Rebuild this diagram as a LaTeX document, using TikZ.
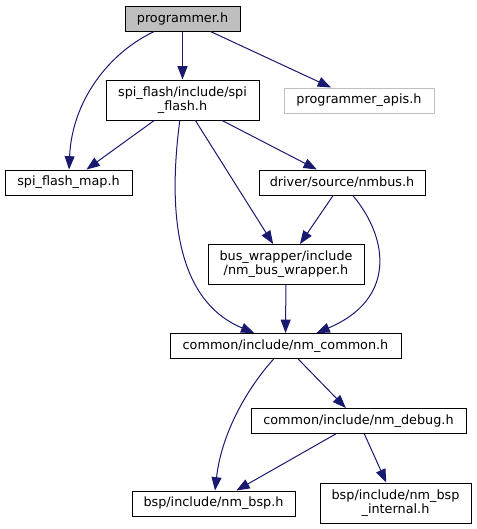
\documentclass[tikz,border=0pt]{standalone}
\usepackage{fontspec}
\setmainfont{DejaVu Sans}
\usetikzlibrary{arrows.meta}

\definecolor{edgeblue}{RGB}{25,25,112}
\definecolor{boxgray}{RGB}{191,191,191}

\begin{document}
\begin{tikzpicture}[
      x=0.75pt, y=-0.75pt,
      box/.style={draw=black, fill=white, line width=0.75pt, inner sep=0pt,
        align=center, font=\fontsize{9.6}{10.5}\selectfont, minimum height=18.75pt},
      tall/.style={minimum height=30pt},
      edge/.style={draw=edgeblue, line width=0.75pt, -{Triangle[length=10pt, width=7.5pt]}},
      ]

      \useasboundingbox (0,0) rectangle (476,529);

      % files
      \node[box, fill=boxgray, minimum width=86.25pt] (prog) at (182.5,18.5) {programmer.h};
      \node[box, tall, minimum width=114.75pt] (spiflash) at (182.5,100) {spi\_flash/include/spi\\\_flash.h};
      \node[box, draw=boxgray, minimum width=112.5pt] (apis) at (359,100.5) {programmer\_apis.h};
      \node[box, minimum width=95.25pt] (flashmap) at (68.5,182.5) {spi\_flash\_map.h};
      \node[box, minimum width=124.5pt] (nmbus) at (342,182.5) {driver/source/nmbus.h};
      \node[box, tall, minimum width=117pt] (buswrap) at (286,264.5) {bus\_wrapper/include\\/nm\_bus\_wrapper.h};
      \node[box, minimum width=173.25pt] (common) at (285.5,346) {common/include/nm\_common.h};
      \node[box, minimum width=161.25pt] (debug) at (358.5,421) {common/include/nm\_debug.h};
      \node[box, minimum width=122.25pt] (bsp) at (213.5,503.5) {bsp/include/nm\_bsp.h};
      \node[box, tall, minimum width=113.25pt] (bspint) at (395.5,503) {bsp/include/nm\_bsp\\\_internal.h};

      % includes
      \draw[edge] (prog) .. controls (110,52) and (72,100) .. (flashmap);
      \draw[edge] (prog) -- (spiflash);
      \draw[edge] (prog) -- (apis);
      \draw[edge] (spiflash) -- (flashmap);
      \draw[edge] (spiflash) .. controls (168,210) and (175,300) .. (common);
      \draw[edge] (spiflash) -- (buswrap);
      \draw[edge] (spiflash) -- (nmbus);
      \draw[edge] (nmbus) -- (buswrap);
      \draw[edge] (nmbus) .. controls (390,240) and (395,300) .. (common);
      \draw[edge] (buswrap) -- (common);
      \draw[edge] (common) .. controls (250,385) and (222,430) .. (bsp);
      \draw[edge] (common) -- (debug);
      \draw[edge] (debug) -- (bsp);
      \draw[edge] (debug) -- (bspint);

    \end{tikzpicture}
\end{document}
